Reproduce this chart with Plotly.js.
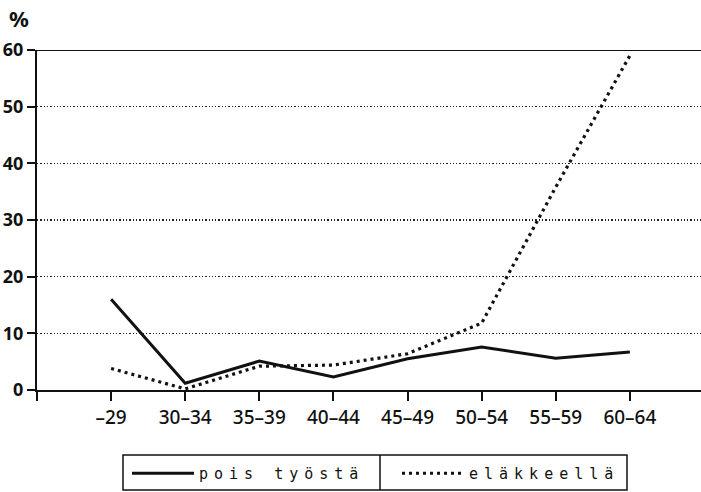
<!DOCTYPE html>
<html>
<head>
<meta charset="utf-8">
<script src="https://cdn.plot.ly/plotly-3.0.1.min.js"></script>
<style>
  html, body { margin: 0; padding: 0; background: #fff; }
  #chart { width: 701px; height: 492px; }
  .legendtext { letter-spacing: 6px; }
</style>
</head>
<body>
<div id="chart"></div>
<script>
// Age groups (x categories)
const ageGroups = ['–29', '30–34', '35–39', '40–44', '45–49', '50–54', '55–59', '60–64'];
// Series values (%)
const poisTyosta = [16.0, 1.2, 5.1, 2.3, 5.5, 7.6, 5.6, 6.7];
const elakkeella = [3.8, 0.2, 4.2, 4.4, 6.4, 11.8, 35.8, 59.0];
// Axis tick values
const yTicks = [0, 10, 20, 30, 40, 50, 60];
const seriesNames = ['pois työstä', 'eläkkeellä'];

const xIdx = ageGroups.map((_, i) => i);

const traces = [
  {
    x: xIdx, y: poisTyosta, name: seriesNames[0], type: 'scatter', mode: 'lines',
    line: { color: '#111', width: 3 }
  },
  {
    x: xIdx, y: elakkeella, name: seriesNames[1], type: 'scatter', mode: 'lines',
    line: { color: '#111', width: 3.2, dash: '3px,4px' }
  }
];

const tickFont = { family: '"Noto Sans", "Liberation Sans", sans-serif', stretch: 'extra-condensed', size: 19, color: '#111' };

const layout = {
  width: 701, height: 492,
  margin: { l: 37, r: 0, t: 50, b: 102, autoexpand: false },
  paper_bgcolor: '#fff', plot_bgcolor: '#fff',
  showlegend: true,
  xaxis: {
    type: 'linear',
    range: [-1, 7.96],
    tickmode: 'array',
    tickvals: [-1].concat(xIdx),
    ticktext: [''].concat(ageGroups),
    ticks: 'outside', ticklen: 9, tickwidth: 2, tickcolor: '#111',
    showline: true, linecolor: '#111', linewidth: 2,
    showgrid: false, zeroline: false,
    tickfont: Object.assign({}, tickFont, { weight: 500 }),
    fixedrange: true
  },
  yaxis: {
    range: [0, 60],
    tickmode: 'array',
    tickvals: yTicks,
    ticktext: yTicks.map(String),
    ticks: 'outside', ticklen: 8, tickwidth: 2, tickcolor: '#111',
    showline: true, linecolor: '#111', linewidth: 2,
    showgrid: true, gridcolor: '#222', gridwidth: 1.3, griddash: '1.3px,2px',
    zeroline: false,
    tickfont: Object.assign({}, tickFont, { size: 18, weight: 'bold' }),
    fixedrange: true
  },
  shapes: [
    // top frame line at 60
    { type: 'line', xref: 'paper', yref: 'y', x0: 0, x1: 1, y0: 60, y1: 60,
      line: { color: '#111', width: 2 } },
    // legend box
    { type: 'rect', xref: 'paper', yref: 'paper', x0: (123 - 37) / 664, x1: (627 - 37) / 664,
      y0: -(490 - 390) / 340, y1: -(455 - 390) / 340, line: { color: '#111', width: 1.5 } },
    // legend divider
    { type: 'line', xref: 'paper', yref: 'paper', x0: (380 - 37) / 664, x1: (380 - 37) / 664,
      y0: -(490 - 390) / 340, y1: -(455 - 390) / 340, line: { color: '#111', width: 1.5 } }
  ],
  annotations: [
    { text: '%', xref: 'paper', yref: 'paper', x: (19 - 37) / 664, y: (390 - 18) / 340,
      xanchor: 'center', yanchor: 'middle', showarrow: false,
      font: { family: '"Noto Sans", "Liberation Sans", sans-serif', stretch: 'extra-condensed', size: 22, color: '#111', weight: 'bold' } }
  ],
  legend: {
    orientation: 'h',
    x: (127 - 37) / 664, xanchor: 'left',
    y: -(457 - 390) / 340, yanchor: 'top',
    entrywidth: 193, entrywidthmode: 'pixels',
    itemwidth: 62,
    borderwidth: 0, bgcolor: 'rgba(0,0,0,0)',
    font: { family: '"DejaVu Sans Mono", "Liberation Mono", monospace', size: 15, color: '#111' }
  }
};

Plotly.newPlot('chart', traces, layout, { displayModeBar: false, staticPlot: true });
</script>
</body>
</html>
